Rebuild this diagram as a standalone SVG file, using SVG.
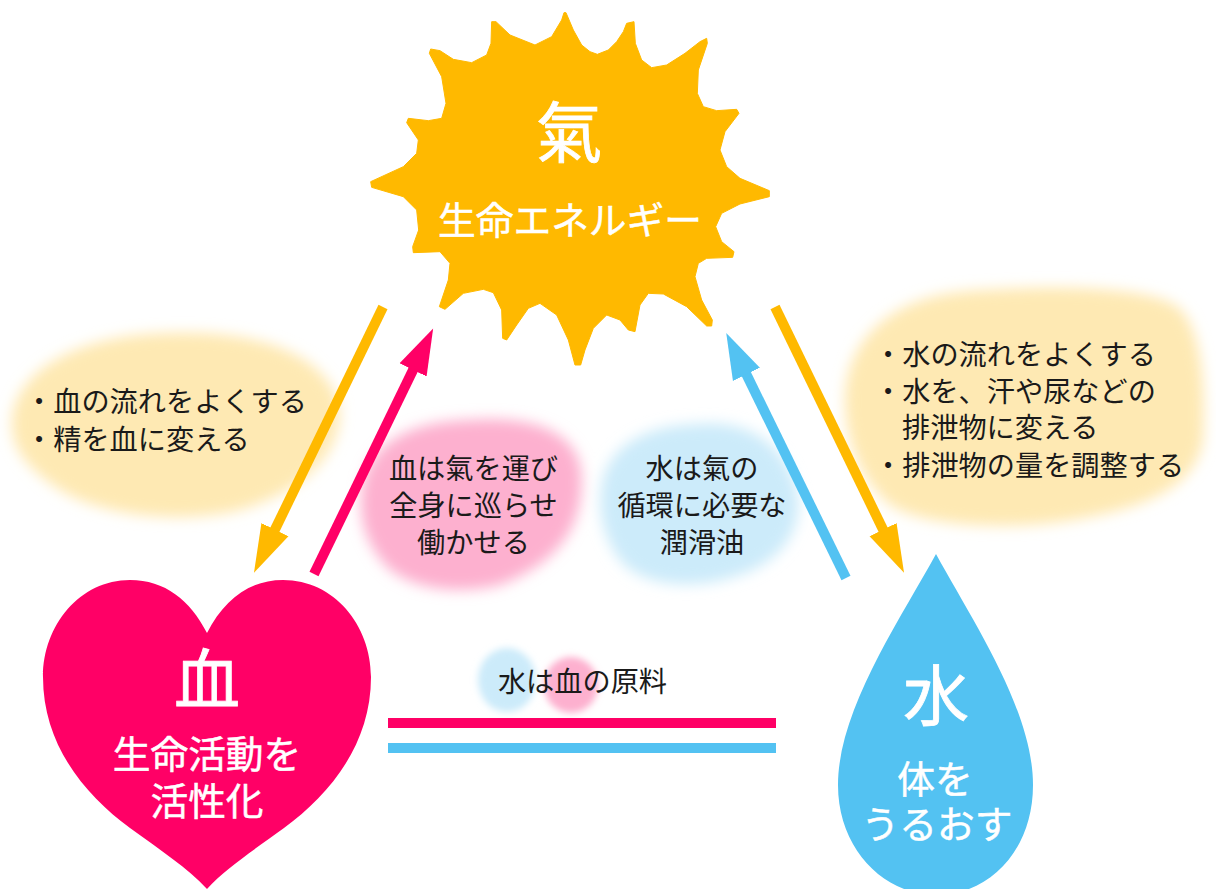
<svg xmlns="http://www.w3.org/2000/svg" width="1216" height="889" viewBox="0 0 1216 889">
<style>
text{font-family:"Noto Sans CJK JP","Noto Sans CJK SC",sans-serif;}
.w{fill:#fff;stroke:#fff;stroke-width:.5;text-anchor:middle;font-size:37.7px;}
.big{fill:#fff;stroke:#fff;stroke-width:.8;text-anchor:middle;font-size:66px;}
.k{fill:#1a1a1a;font-size:28.2px;}
.m{text-anchor:middle;}
.or{stroke:#FFB900;}.pk{stroke:#FF0066;}.bl{stroke:#53C2F2;}
.c{fill:none;stroke-width:10;}
</style>
<defs>
<filter id="b" x="-20%" y="-20%" width="140%" height="140%"><feGaussianBlur stdDeviation="7"/></filter>
<filter id="s" x="-40%" y="-40%" width="180%" height="180%"><feGaussianBlur stdDeviation="3.5"/></filter>
<marker id="ao" markerUnits="userSpaceOnUse" markerWidth="50" markerHeight="32" refX="1" refY="16" orient="auto"><path d="M0,1L48,16L0,31Z" fill="#FFB900"/></marker>
<marker id="ap" markerUnits="userSpaceOnUse" markerWidth="50" markerHeight="32" refX="1" refY="16" orient="auto"><path d="M0,1L46,16L0,31Z" fill="#FF0066"/></marker>
<marker id="ab" markerUnits="userSpaceOnUse" markerWidth="50" markerHeight="32" refX="1" refY="16" orient="auto"><path d="M0,1L46,16L0,31Z" fill="#53C2F2"/></marker>
</defs>
<rect width="1216" height="889" fill="#fff"/>
<g id="notes-bg">
<g filter="url(#b)">
<path d="M12,420C15,375 70,335 170,333C250,330 320,350 338,400C348,445 310,490 240,510C180,525 100,515 60,490C30,470 10,450 12,420Z" fill="#FEE9B3"/>
<path d="M845,400C845,345 885,300 960,292C1040,285 1140,285 1175,305C1205,325 1205,400 1203,440C1195,490 1140,510 1060,522C1000,530 920,525 890,505C860,480 845,440 845,400Z" fill="#FEE9B3"/>
<path d="M361,500C362,450 400,422 470,420C530,416 575,430 581,470C585,520 565,560 500,585C460,595 410,590 385,565C368,545 360,525 361,500Z" fill="#FDB0CF"/>
<path d="M601,490C605,450 640,425 700,424C750,420 785,445 797,490C805,530 780,565 730,578C690,590 640,585 620,560C605,540 598,515 601,490Z" fill="#CCEBFA"/>
</g>
<g filter="url(#s)">
<ellipse cx="507" cy="680" rx="29" ry="32" fill="#CCEBFA"/>
<ellipse cx="571" cy="685" rx="27" ry="28" fill="#FDB0CF"/>
</g>
</g>
<g id="connectors">
<line class="c or" x1="383" y1="307" x2="274.500" y2="530.500" marker-end="url(#ao)"/>
<line class="c pk" x1="314" y1="574" x2="413.500" y2="369" marker-end="url(#ap)"/>
<line class="c bl" x1="846" y1="578" x2="746" y2="373.500" marker-end="url(#ab)"/>
<line class="c or" x1="775" y1="307" x2="883.500" y2="530.500" marker-end="url(#ao)"/>
<line class="pk" stroke-width="10" x1="388" y1="723" x2="776" y2="723"/>
<line class="bl" stroke-width="10" x1="388" y1="748" x2="776" y2="748"/>
</g>
<g id="ki">
<polygon transform="translate(360,0) scale(.33333)" fill="#FFB900" stroke="#FFB900" stroke-width="3" stroke-linejoin="round" points="618,38 640,90 665,135 690,155 712,163 745,150 770,125 790,95 800,70 822,65 826,130 845,180 875,203 920,195 975,160 1020,125 1040,115 1042,130 1015,210 1012,280 1030,320 1070,332 1130,328 1137,340 1095,395 1080,450 1100,500 1140,535 1228,572 1228,590 1140,612 1085,640 1067,680 1085,725 1122,755 1118,772 1040,775 1015,790 1005,830 1025,900 1057,960 1055,978 1040,978 980,920 910,882 865,880 840,915 825,995 805,990 780,960 740,945 700,985 675,1050 662,1095 645,1095 625,1020 590,945 540,910 505,925 470,975 440,1020 428,1015 425,930 400,878 370,868 310,880 255,928 238,920 265,840 270,790 240,755 160,758 158,740 176,690 170,630 130,590 35,562 32,545 130,500 170,460 175,420 140,368 145,355 205,362 245,355 258,310 245,230 208,160 212,147 240,152 280,178 335,188 380,165 393,130 395,65 408,65 450,105 525,135 575,110 605,60 612,38"/>
<text class="big" x="569" y="157">氣</text>
<text class="w" x="570" y="234">生命エネルギー</text>
</g>
<g id="ketsu">
<path fill="#FF0066" d="M207,633C190,600 165,580 130,580C80,580 43,625 43,677C43,745 85,795 130,828C160,850 188,868 207,889C226,868 254,850 284,828C329,795 371,745 371,677C371,625 334,580 283,580C249,580 224,600 207,633Z"/>
<text class="big" x="207" y="704">血</text>
<text class="w" x="207" y="768">生命活動を</text>
<text class="w" x="207" y="815">活性化</text>
</g>
<g id="sui">
<path fill="#53C2F2" d="M936,554C900,620 838,710 838,785C838,850 885,895 936,895C990,895 1033,850 1033,785C1033,710 972,620 936,554Z"/>
<text class="big" x="936" y="720">水</text>
<text class="w" x="935" y="793">体を</text>
<text class="w" x="937" y="838">うるおす</text>
</g>
<g id="note-ki-ketsu">
<text class="k" x="25" y="412">・血の流れをよくする</text>
<text class="k" x="25" y="450">・精を血に変える</text>
</g>
<g id="note-ki-sui">
<text class="k" x="874" y="365">・水の流れをよくする</text>
<text class="k" x="874" y="402">・水を、汗や尿などの</text>
<text class="k" x="902" y="438">排泄物に変える</text>
<text class="k" x="874" y="476">・排泄物の量を調整する</text>
</g>
<g id="note-ketsu">
<text class="k m" x="473.500" y="479">血は氣を運び</text>
<text class="k m" x="473.500" y="516">全身に巡らせ</text>
<text class="k m" x="473.500" y="553">働かせる</text>
</g>
<g id="note-sui">
<text class="k m" x="702" y="479">水は氣の</text>
<text class="k m" x="702" y="516">循環に必要な</text>
<text class="k m" x="702" y="553">潤滑油</text>
</g>
<g id="note-base">
<text class="k m" x="582.500" y="692">水は血の原料</text>
</g>
</svg>
